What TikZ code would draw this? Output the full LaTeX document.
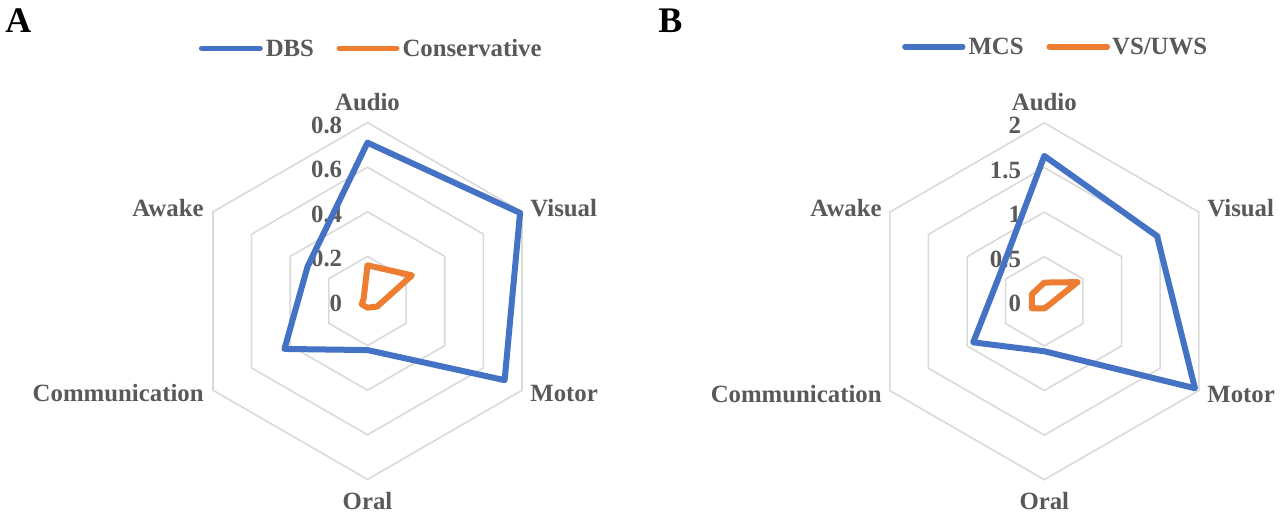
\documentclass[tikz,border=0pt]{standalone}
\usepackage{fontspec}
\setmainfont{Liberation Serif}
\usetikzlibrary{positioning}
\definecolor{seriesblue}{HTML}{4472C4}
\definecolor{seriesorange}{HTML}{ED7D31}
\definecolor{gridgray}{HTML}{D9D9D9}
\definecolor{labelgray}{HTML}{595959}
\tikzset{
  {ring/.style} ={draw=gridgray, line width=0.8pt},
  {series/.style} ={draw=#1, line width=3pt, line join=round},
  {legend line/.style} ={draw=#1, line width=2.8pt, line cap=round},
  {axis label/.style} ={text=labelgray, inner sep=0,
                font=\bfseries\fontsize{12.4}{14}\selectfont},
  {tick label/.style} ={axis label, anchor=east},
  {legend text/.style} ={axis label, anchor=base west, xshift=1.5pt, yshift=-4pt},
  {panel/.style} ={inner sep=0, anchor=base west,
                font=\bfseries\fontsize{18}{20}\selectfont},
}

\begin{document}
\begin{tikzpicture}[x=0.5pt,y=0.5pt]
    \useasboundingbox (0,0) rectangle (1280,516);
    % panel A
    \node[panel] (panelA) at (5,484) {A};
    \coordinate (dbsleg) at (201.7,467.7);
    \coordinate (consleg) at (339.3,467.7);
    \draw[legend line=seriesblue] (dbsleg) -- ++(58.3,0)
        node[legend text] (dbstext) {DBS};
    \draw[legend line=seriesorange] (consleg) -- ++(57.4,0)
        node[legend text] (constext) {Conservative};
    \begin{scope}[shift={(367.5,215)}]
      \foreach \k in {1,...,4}
        \draw[ring] (90:{\k*44.6}) -- (30:{\k*44.6}) -- (-30:{\k*44.6})
          -- (-90:{\k*44.6}) -- (-150:{\k*44.6}) -- (150:{\k*44.6}) -- cycle;
      \foreach \k/\t in {0/0,1/0.2,2/0.4,3/0.6,4/0.8}
        \node[tick label] (tickA\k) at (-25,{\k*44.6-2.5}) {\t};
      \node[axis label, anchor=base] (audioA) at (0,191) {Audio};
      \node[axis label, anchor=base west] (visualA) at (162.5,85) {Visual};
      \node[axis label, anchor=base west] (motorA) at (162.5,-100.7) {Motor};
      \node[axis label, anchor=base] (oralA) at (0,-208) {Oral};
      \node[axis label, anchor=base east] (commA) at (-163.5,-100.7) {Communication};
      \node[axis label, anchor=base east] (awakeA) at (-163.5,85) {Awake};
      % DBS
      \draw[series=seriesblue] (90:{0.71*223}) -- (30:{0.79*223}) -- (-30:{0.71*223})
        -- (-90:{0.22*223}) -- (-150:{0.43*223}) -- (150:{0.31*223}) -- cycle;
      % Conservative
      \draw[series=seriesorange] (90:{0.16*223}) -- (30:{0.23*223}) -- (-30:{0.05*223})
        -- (-90:{0.03*223}) -- (-150:{0.03*223}) -- (150:{0.02*223}) -- cycle;
    \end{scope}
    % panel B
    \node[panel] (panelB) at (658,484) {B};
    \coordinate (mcsleg) at (905,469.3);
    \coordinate (vsleg) at (1049.3,469.3);
    \draw[legend line=seriesblue] (mcsleg) -- ++(57.7,0)
        node[legend text] (mcstext) {MCS};
    \draw[legend line=seriesorange] (vsleg) -- ++(58,0)
        node[legend text, xshift=-0.5pt] (vstext) {VS/UWS};
    \begin{scope}[shift={(1044.3,214.7)}]
      \foreach \k in {1,...,4}
        \draw[ring] (90:{\k*44.6}) -- (30:{\k*44.6}) -- (-30:{\k*44.6})
          -- (-90:{\k*44.6}) -- (-150:{\k*44.6}) -- (150:{\k*44.6}) -- cycle;
      \foreach \k/\t in {0/0,1/0.5,2/1,3/1.5,4/2}
        \node[tick label] (tickB\k) at (-23,{\k*44.6-2.5}) {\t};
      \node[axis label, anchor=base] (audioB) at (0,191) {Audio};
      \node[axis label, anchor=base west] (visualB) at (162.7,85) {Visual};
      \node[axis label, anchor=base west] (motorB) at (162.7,-100.7) {Motor};
      \node[axis label, anchor=base] (oralB) at (0,-208) {Oral};
      \node[axis label, anchor=base east] (commB) at (-162.3,-100.7) {Communication};
      \node[axis label, anchor=base east] (awakeB) at (-162.3,85) {Awake};
      % MCS
      \draw[series=seriesblue] (90:{1.63*89.2}) -- (30:{1.46*89.2}) -- (-30:{1.95*89.2})
        -- (-90:{0.56*89.2}) -- (-150:{0.92*89.2}) -- (150:{0.58*89.2}) -- cycle;
      % VS/UWS
      \draw[series=seriesorange] (90:{0.21*89.2}) -- (30:{0.43*89.2}) -- (-30:{0.07*89.2})
        -- (-90:{0.08*89.2}) -- (-150:{0.16*89.2}) -- (150:{0.16*89.2}) -- cycle;
    \end{scope}
\end{tikzpicture}
\end{document}
